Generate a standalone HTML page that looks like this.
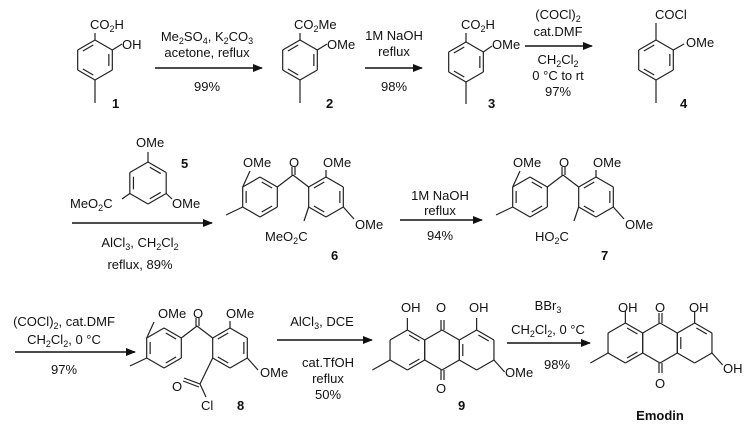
<!DOCTYPE html>
<html><head><meta charset="utf-8"><style>
body{margin:0;background:#fff}
svg{display:block}
text{font-family:"Liberation Sans",Arial,sans-serif;font-size:13px;fill:#111}
.b{font-weight:bold}
</style></head><body>
<svg id="s" width="754" height="429" viewBox="0 0 754 429" xmlns="http://www.w3.org/2000/svg">
<defs><marker id="a" markerWidth="10" markerHeight="8" refX="9" refY="4" orient="auto" markerUnits="userSpaceOnUse"><path d="M0,0 L10,4 L0,8 z" fill="#111"/></marker></defs>
<g id="g" stroke="#222" stroke-width="1.2" fill="none"></g>
<g stroke="#111" stroke-width="1.6" marker-end="url(#a)">
<line x1="155" y1="68" x2="262" y2="68"/>
<line x1="365" y1="68" x2="422" y2="68"/>
<line x1="525" y1="46" x2="592" y2="46"/>
<line x1="72" y1="223" x2="212" y2="223"/>
<line x1="400" y1="220" x2="482" y2="220"/>
<line x1="15" y1="352" x2="135" y2="352"/>
<line x1="277" y1="340" x2="372" y2="340"/>
<line x1="507" y1="343" x2="590" y2="343"/>
</g>
<!-- row1 -->
<text x="90" y="29">CO<tspan font-size="9" dy="3">2</tspan><tspan dy="-3">H</tspan></text>
<text x="122" y="49">OH</text>
<text x="112" y="108" class="b">1</text>
<text x="207" y="41" text-anchor="middle">Me<tspan font-size="9" dy="3">2</tspan><tspan dy="-3">SO</tspan><tspan font-size="9" dy="3">4</tspan><tspan dy="-3">, K</tspan><tspan font-size="9" dy="3">2</tspan><tspan dy="-3">CO</tspan><tspan font-size="9" dy="3">3</tspan></text>
<text x="207" y="57" text-anchor="middle">acetone, reflux</text>
<text x="207" y="91" text-anchor="middle">99%</text>
<text x="294" y="29">CO<tspan font-size="9" dy="3">2</tspan><tspan dy="-3">Me</tspan></text>
<text x="327" y="49">OMe</text>
<text x="326" y="108" class="b">2</text>
<text x="394" y="40" text-anchor="middle">1M NaOH</text>
<text x="394" y="56" text-anchor="middle">reflux</text>
<text x="394" y="91" text-anchor="middle">98%</text>
<text x="461" y="29">CO<tspan font-size="9" dy="3">2</tspan><tspan dy="-3">H</tspan></text>
<text x="492" y="49">OMe</text>
<text x="488" y="108" class="b">3</text>
<text x="558" y="19" text-anchor="middle">(COCl)<tspan font-size="9" dy="3">2</tspan></text>
<text x="558" y="36" text-anchor="middle">cat.DMF</text>
<text x="558" y="64" text-anchor="middle">CH<tspan font-size="9" dy="3">2</tspan><tspan dy="-3">Cl</tspan><tspan font-size="9" dy="3">2</tspan></text>
<text x="558" y="80" text-anchor="middle">0 °C to rt</text>
<text x="558" y="96" text-anchor="middle">97%</text>
<text x="655" y="19">COCl</text>
<text x="686" y="47">OMe</text>
<text x="680" y="108" class="b">4</text>
<!-- row2 -->
<text x="136" y="147">OMe</text>
<text x="181" y="168" class="b">5</text>
<text x="70" y="208">MeO<tspan font-size="9" dy="3">2</tspan><tspan dy="-3">C</tspan></text>
<text x="172" y="208">OMe</text>
<text x="140" y="247" text-anchor="middle">AlCl<tspan font-size="9" dy="3">3</tspan><tspan dy="-3">, CH</tspan><tspan font-size="9" dy="3">2</tspan><tspan dy="-3">Cl</tspan><tspan font-size="9" dy="3">2</tspan></text>
<text x="140" y="269" text-anchor="middle">reflux, 89%</text>
<text x="243" y="167">OMe</text><text x="289" y="167">O</text><text x="323" y="167">OMe</text>
<text x="355" y="229">OMe</text>
<text x="265" y="241">MeO<tspan font-size="9" dy="3">2</tspan><tspan dy="-3">C</tspan></text>
<text x="331" y="260" class="b">6</text>
<text x="440" y="200" text-anchor="middle">1M NaOH</text>
<text x="440" y="215" text-anchor="middle">reflux</text>
<text x="440" y="240" text-anchor="middle">94%</text>
<text x="513" y="167">OMe</text><text x="559" y="167">O</text><text x="593" y="167">OMe</text>
<text x="625" y="229">OMe</text>
<text x="535" y="241">HO<tspan font-size="9" dy="3">2</tspan><tspan dy="-3">C</tspan></text>
<text x="601" y="260" class="b">7</text>
<!-- row3 -->
<text x="64" y="326" text-anchor="middle">(COCl)<tspan font-size="9" dy="3">2</tspan><tspan dy="-3">, cat.DMF</tspan></text>
<text x="64" y="344" text-anchor="middle">CH<tspan font-size="9" dy="3">2</tspan><tspan dy="-3">Cl</tspan><tspan font-size="9" dy="3">2</tspan><tspan dy="-3">, 0 °C</tspan></text>
<text x="64" y="374" text-anchor="middle">97%</text>
<text x="158" y="318">OMe</text><text x="193" y="318">O</text><text x="226" y="318">OMe</text>
<text x="260" y="377">OMe</text>
<text x="172" y="391">O</text><text x="201" y="410">Cl</text>
<text x="237" y="410" class="b">8</text>
<text x="322" y="326" text-anchor="middle">AlCl<tspan font-size="9" dy="3">3</tspan><tspan dy="-3">, DCE</tspan></text>
<text x="328" y="367" text-anchor="middle">cat.TfOH</text>
<text x="328" y="383" text-anchor="middle">reflux</text>
<text x="328" y="399" text-anchor="middle">50%</text>
<text x="401" y="312">OH</text><text x="436" y="312">O</text><text x="469" y="312">OH</text>
<text x="505" y="377">OMe</text><text x="436" y="393">O</text>
<text x="458" y="410" class="b">9</text>
<text x="548" y="310" text-anchor="middle">BBr<tspan font-size="9" dy="3">3</tspan></text>
<text x="548" y="334" text-anchor="middle">CH<tspan font-size="9" dy="3">2</tspan><tspan dy="-3">Cl</tspan><tspan font-size="9" dy="3">2</tspan><tspan dy="-3">, 0 °C</tspan></text>
<text x="557" y="369" text-anchor="middle">98%</text>
<text x="618" y="312">OH</text><text x="655" y="312">O</text><text x="689" y="312">OH</text>
<text x="723" y="373">OH</text><text x="655" y="388">O</text>
<text x="660" y="420" text-anchor="middle" class="b">Emodin</text>
</svg>
<script>
var g=document.getElementById('g'),NS='http://www.w3.org/2000/svg';
function L(a,b,c,d){var l=document.createElementNS(NS,'line');l.setAttribute('x1',a);l.setAttribute('y1',b);l.setAttribute('x2',c);l.setAttribute('y2',d);g.appendChild(l);}
function V(cx,cy,r,k){var t=(-90+60*k)*Math.PI/180;return [cx+r*Math.cos(t),cy+r*Math.sin(t)];}
function R(cx,cy,r,d){for(var k=0;k<6;k++){var p=V(cx,cy,r,k),q=V(cx,cy,r,k+1);L(p[0],p[1],q[0],q[1]);}
 (d||[]).forEach(function(k){var p=V(cx,cy,r*0.8,k),q=V(cx,cy,r*0.8,k+1);var mx=(p[0]+q[0])/2,my=(p[1]+q[1])/2;L(mx+(p[0]-mx)*0.75,my+(p[1]-my)*0.75,mx+(q[0]-mx)*0.75,my+(q[1]-my)*0.75);});}
function B(cx,cy,r,k,x,y){var p=V(cx,cy,r,k);L(p[0],p[1],x,y);}
R(95,60,20,[1,3,5]);B(95,60,20,0,95,33);B(95,60,20,1,122,44);B(95,60,20,3,95,103);
R(300,60,20,[1,3,5]);B(300,60,20,0,300,33);B(300,60,20,1,327,44);B(300,60,20,3,300,103);
R(466,62,20,[1,3,5]);B(466,62,20,0,466,33);B(466,62,20,1,492,46);B(466,62,20,3,466,104);
R(656,60,20,[1,3,5]);B(656,60,20,0,656,23);B(656,60,20,1,684,44);B(656,60,20,3,656,103);
R(148,183,21,[0,2,4]);B(148,183,21,0,148,152);B(148,183,21,4,122,199);B(148,183,21,2,172,199);
function diaryl(dx,dy,ester){var l=[260+dx,197+dy],rr=[326+dx,197+dy],r=20;
 R(l[0],l[1],r,[0,2,4]);R(rr[0],rr[1],r,[5,1,3]);
 B(l[0],l[1],r,5,l[0]-10,l[1]-26);B(l[0],l[1],r,4,l[0]-34,l[1]+18);
 var c=[(l[0]+rr[0])/2,l[1]-22];B(l[0],l[1],r,1,c[0],c[1]);B(rr[0],rr[1],r,5,c[0],c[1]);
 L(c[0]-1,c[1],c[0]-1,c[1]-8);L(c[0]+2,c[1],c[0]+2,c[1]-8);
 B(rr[0],rr[1],r,0,rr[0],rr[1]-27);B(rr[0],rr[1],r,2,rr[0]+28,rr[1]+22);
 if(ester)B(rr[0],rr[1],r,4,rr[0]-22,rr[1]+24);}
diaryl(0,0,1);diaryl(270,0,1);diaryl(-96,151,0);
B(230,348,20,4,200,384);L(200,384,184,378);L(199,387,183,381);L(200,384,206,397);
function aq(m,cy){var r=20,s=r*Math.sqrt(3);R(m-s,cy,r,[0,2]);R(m,cy,r,[]);R(m+s,cy,r,[4,0]);
 L(m-1,cy-r,m-1,cy-r-10);L(m+2,cy-r,m+2,cy-r-10);L(m-1,cy+r,m-1,cy+r+10);L(m+2,cy+r,m+2,cy+r+10);
 B(m-s,cy,r,0,m-s,cy-r-12);B(m+s,cy,r,0,m+s,cy-r-12);B(m-s,cy,r,4,m-s-35,cy+20);B(m+s,cy,r,2,m+s+28,cy+22);}
aq(442,350);aq(660,343);
</script>
</body></html>
